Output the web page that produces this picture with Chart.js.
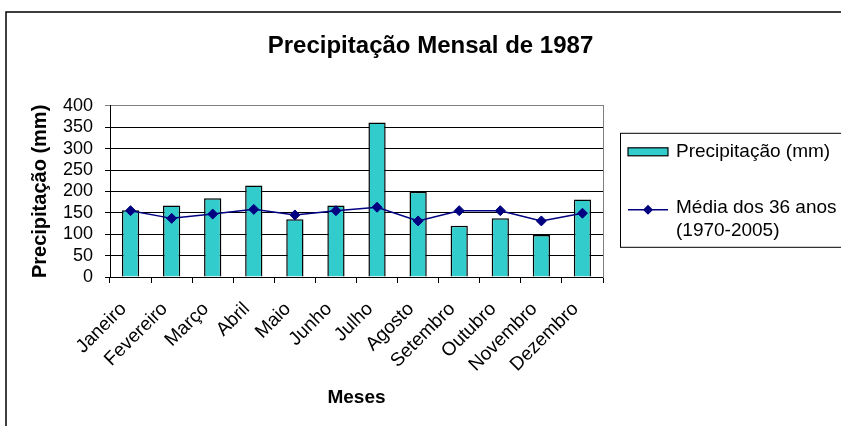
<!DOCTYPE html>
<html lang="pt">
<head>
  <meta charset="UTF-8">
  <title>Precipitação Mensal de 1987</title>
  <script src="https://cdn.jsdelivr.net/npm/chart.js"></script>
  <style>
    html, body { margin: 0; padding: 0; background: #fff; }
    #wrap { width: 841px; height: 426px; }
  </style>
</head>
<body>
  <div id="wrap">
    <canvas id="chuvaChart" width="841" height="426"></canvas>
  </div>

  <script>
    const meses = ['Janeiro', 'Fevereiro', 'Março', 'Abril', 'Maio', 'Junho',
                   'Julho', 'Agosto', 'Setembro', 'Outubro', 'Novembro', 'Dezembro'];
    const precipitacao1987 = [156, 167, 184, 214, 135, 167, 361, 199, 120, 137, 98, 181];
    const media36anos = [155, 137, 147, 158, 145, 155, 163, 131, 155, 155, 131, 149];
    const yTicks = [0, 50, 100, 150, 200, 250, 300, 350, 400];

    const FONTE = '"Liberation Sans", Arial, sans-serif';
    const TURQUESA = '#33CCCC';
    const AZUL = '#000080';

    // moldura externa + legenda desenhada à mão (texto em duas linhas)
    const moldura = {
      id: 'moldura',
      beforeDraw(chart) {
        const ctx = chart.ctx;
        ctx.save();
        ctx.strokeStyle = '#000';
        ctx.lineWidth = 1.5;
        ctx.beginPath();
        ctx.moveTo(6, chart.height);
        ctx.lineTo(6, 12);
        ctx.lineTo(chart.width, 12);
        ctx.stroke();
        ctx.restore();
      },
      afterDraw(chart) {
        const ctx = chart.ctx;
        const area = chart.chartArea;
        const bx = area.right + 17, by = area.top + 27;
        const barras = chart.data.datasets[1];
        const linha = chart.data.datasets[0];
        ctx.save();
        ctx.strokeStyle = '#000';
        ctx.lineWidth = 1;
        ctx.strokeRect(bx + 0.5, by + 0.5, 260, 114);

        // item 1: barras
        ctx.fillStyle = barras.backgroundColor;
        ctx.fillRect(bx + 8, by + 15, 40, 8);
        ctx.lineWidth = 1.2;
        ctx.strokeRect(bx + 8, by + 15, 40, 8);

        ctx.font = '19px ' + FONTE;
        ctx.fillStyle = '#000';
        ctx.textBaseline = 'middle';
        ctx.textAlign = 'left';
        ctx.fillText(barras.label, bx + 56, by + 19);

        // item 2: linha com losango
        const ly = by + 77;
        ctx.strokeStyle = linha.borderColor;
        ctx.lineWidth = 1.5;
        ctx.beginPath();
        ctx.moveTo(bx + 8, ly);
        ctx.lineTo(bx + 48, ly);
        ctx.stroke();
        ctx.fillStyle = linha.pointBackgroundColor;
        ctx.beginPath();
        ctx.moveTo(bx + 28, ly - 5);
        ctx.lineTo(bx + 33, ly);
        ctx.lineTo(bx + 28, ly + 5);
        ctx.lineTo(bx + 23, ly);
        ctx.closePath();
        ctx.fill();

        ctx.fillStyle = '#000';
        ctx.fillText(linha.label[0], bx + 56, ly - 2);
        ctx.fillText(linha.label[1], bx + 56, ly + 21);
        ctx.restore();
      }
    };

    new Chart(document.getElementById('chuvaChart'), {
      type: 'bar',
      data: {
        labels: meses,
        datasets: [
          {
            type: 'line',
            label: ['Média dos 36 anos', '(1970-2005)'],
            data: media36anos,
            borderColor: AZUL,
            borderWidth: 1.5,
            pointStyle: 'rectRot',
            pointRadius: 5,
            pointBackgroundColor: AZUL,
            pointBorderColor: AZUL,
            pointBorderWidth: 1,
            tension: 0,
            order: 0
          },
          {
            label: 'Precipitação (mm)',
            data: precipitacao1987,
            backgroundColor: TURQUESA,
            borderColor: '#000',
            borderWidth: 1.5,
            barPercentage: 0.42,
            categoryPercentage: 1,
            order: 1
          }
        ]
      },
      options: {
        responsive: false,
        animation: false,
        layout: { padding: { left: 20, top: 0, right: 0, bottom: 0 } },
        plugins: {
          legend: { display: false },
          tooltip: { enabled: false },
          title: {
            display: true,
            text: 'Precipitação Mensal de 1987',
            color: '#000',
            font: { family: FONTE, size: 24, weight: 'bold' },
            padding: { top: 32, bottom: 45 }
          }
        },
        scales: {
          x: {
            grid: {
              offset: true,
              drawOnChartArea: false,
              drawTicks: true,
              tickLength: 6,
              color: '#000'
            },
            border: { color: '#000', width: 1 },
            ticks: {
              color: '#000',
              font: { family: FONTE, size: 19 },
              minRotation: 45,
              maxRotation: 45,
              autoSkip: false,
              labelOffset: -7,
              padding: 15
            },
            title: {
              display: true,
              text: 'Meses',
              color: '#000',
              font: { family: FONTE, size: 19, weight: 'bold' },
              padding: { top: 0, bottom: 17 }
            },
            afterFit(scale) { scale.height = 149; }
          },
          y: {
            min: 0,
            max: 400,
            afterBuildTicks(scale) { scale.ticks = yTicks.map(v => ({ value: v })); },
            grid: {
              color: ctx => (ctx.tick && ctx.tick.value === 400 ? '#808080' : '#000'),
              lineWidth: 1,
              drawTicks: true,
              tickLength: 5
            },
            border: { color: '#000', width: 1 },
            ticks: {
              color: '#000',
              font: { family: FONTE, size: 18 },
              autoSkip: false,
              padding: 12
            },
            title: {
              display: true,
              text: 'Precipitação (mm)',
              color: '#000',
              font: { family: FONTE, size: 20, weight: 'bold' },
              padding: { top: 8, bottom: 0 }
            },
            afterFit(scale) { scale.width = 90; }
          },
          // eixo vazio à direita: reserva o espaço da legenda e fecha a área do gráfico
          lado: {
            type: 'linear',
            position: 'right',
            grid: { display: false, drawOnChartArea: false, drawTicks: false },
            border: { display: true, color: '#808080', width: 1 },
            ticks: { display: false },
            afterFit(scale) { scale.width = 238; }
          }
        }
      },
      plugins: [moldura]
    });
  </script>
</body>
</html>
